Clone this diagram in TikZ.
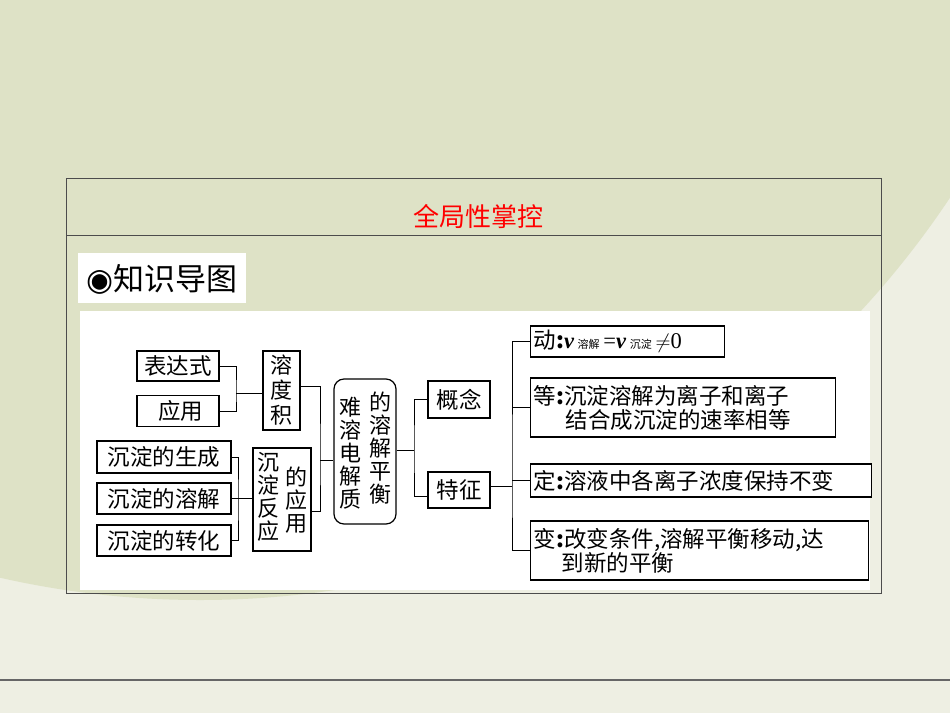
\documentclass[tikz,border=0pt]{standalone}
\usepackage{fontspec}
\setmainfont{Liberation Serif}
\newfontfamily\cjk{Noto Sans CJK SC}
\newfontfamily\dejavu{DejaVu Sans}
\begin{document}
\begin{tikzpicture}[x=1pt,y=-1pt,
  bx/.style={draw=black,line width=1.2pt,fill=white,inner sep=0pt,font=\cjk\fontsize{22.5}{24}\selectfont},
  vt/.style={font=\cjk\fontsize{22}{23}\selectfont,align=center,inner sep=0pt},
  ln/.style={draw=black,line width=1pt}]
\definecolor{bgA}{HTML}{DEE2C6}
\definecolor{bgB}{HTML}{EEEFE3}
\useasboundingbox (0,0) rectangle (950,713);
\fill[bgB] (0,0) rectangle (950,713);
\begin{scope}
\clip (0,0) rectangle (950,713);
\fill[bgA] (200,-300) circle (900);
\end{scope}
\draw[gray!80!black,line width=1.5pt] (0,680) -- (950,680);
% frame
\draw[gray!60!black,line width=0.8pt] (66,178) rectangle (881,593);
\draw[gray!60!black,line width=0.8pt] (66,235) -- (881,235);
\node[red,font=\cjk\fontsize{26}{28}\selectfont] (title) at (478,216) {全局性掌控};
\fill[white] (78,253) rectangle (246,303);
\node[font=\cjk\fontsize{31}{32}\selectfont,inner sep=0pt] (lab) at (162,279) {{\dejavu ◉}知识导图};
\fill[white] (80,311) rectangle (870,590);
% boxes
\node[bx,minimum width=82,minimum height=30] (a1) at (178,366) {表达式};
\node[bx,minimum width=82,minimum height=31] (a2) at (178,411) {\ 应用};
\node[bx,minimum width=37,minimum height=79,align=center,font=\cjk\fontsize{22}{25}\selectfont] (rdj) at (281.5,390.5) {溶\\度\\积};
\node[bx,minimum width=134,minimum height=32] (b1) at (164,457) {沉淀的生成};
\node[bx,minimum width=134,minimum height=31] (b2) at (164,498.5) {沉淀的溶解};
\node[bx,minimum width=134,minimum height=31] (b3) at (164,540.5) {沉淀的转化};
\node[bx,minimum width=58,minimum height=103] (cy) at (282,499.5) {};
\node[vt] (cyl) at (268,497) {沉\\淀\\反\\应};
\node[vt] (cyr) at (296,500) {的\\应\\用};
\node[bx,rounded corners=10pt,minimum width=62,minimum height=145] (ctr) at (365,451.5) {};
\node[vt] (ctl) at (350,453) {难\\溶\\电\\解\\质};
\node[vt] (ctrr) at (380,448) {的\\溶\\解\\平\\衡};
\node[bx,minimum width=62,minimum height=37] (gn) at (459,399.5) {概念};
\node[bx,minimum width=62,minimum height=36] (tz) at (459,490) {特征};
\node[bx,minimum width=194,minimum height=31,anchor=west,inner xsep=3pt,text width=188,align=left] (d1) at (530,341.5) {动{\bfseries:}{\rmfamily\bfseries\itshape v}\,{\fontsize{11}{11}\selectfont 溶解}\,{\rmfamily=}{\rmfamily\bfseries\itshape v}\,{\fontsize{11}{11}\selectfont 沉淀}\,$\neq${\rmfamily 0}};
\node[bx,minimum width=305,minimum height=59,anchor=west,inner xsep=3pt,text width=299,align=left] (d2) at (530,407.5) {等{\bfseries:}沉淀溶解为离子和离子\\\hspace*{32pt}结合成沉淀的速率相等};
\node[bx,minimum width=341,minimum height=33,anchor=west,inner xsep=3pt,text width=335,align=left] (d3) at (530,480.5) {定{\bfseries:}溶液中各离子浓度保持不变};
\node[bx,minimum width=338,minimum height=59,anchor=west,inner xsep=3pt,text width=332,align=left] (d4) at (530,550.5) {变{\bfseries:}改变条件,溶解平衡移动,达\\\hspace*{28pt}到新的平衡};
% connectors
\coordinate (j1) at (236,393);
\draw[ln] (a1.east) -| (j1) |- (a2.east);
\draw[ln] (j1) -- (rdj.west |- j1);
\draw[ln] (b1.east) -| (238,501) |- (b3.east);
\draw[ln] (b2.east) -- (cy.west |- b2.east);
\draw[ln] (rdj.east |- 0,386) -| (320,460) |- (cy.east |- 0,511);
\draw[ln] (320,460) -- (ctr.west |- 0,460);
\draw[ln] (ctr.east |- 0,450) -- (414,450);
\draw[ln] (gn.west |- 0,399) -| (414,450) |- (tz.west |- 0,496);
\draw[ln] (tz.east |- 0,486) -- (512,486);
\draw[ln] (d1.west) -| (512,486) |- (d4.west);
\draw[ln] (d2.west) -- (512,407.5);
\draw[ln] (d3.west) -- (512,480.5);
\end{tikzpicture}
\end{document}
